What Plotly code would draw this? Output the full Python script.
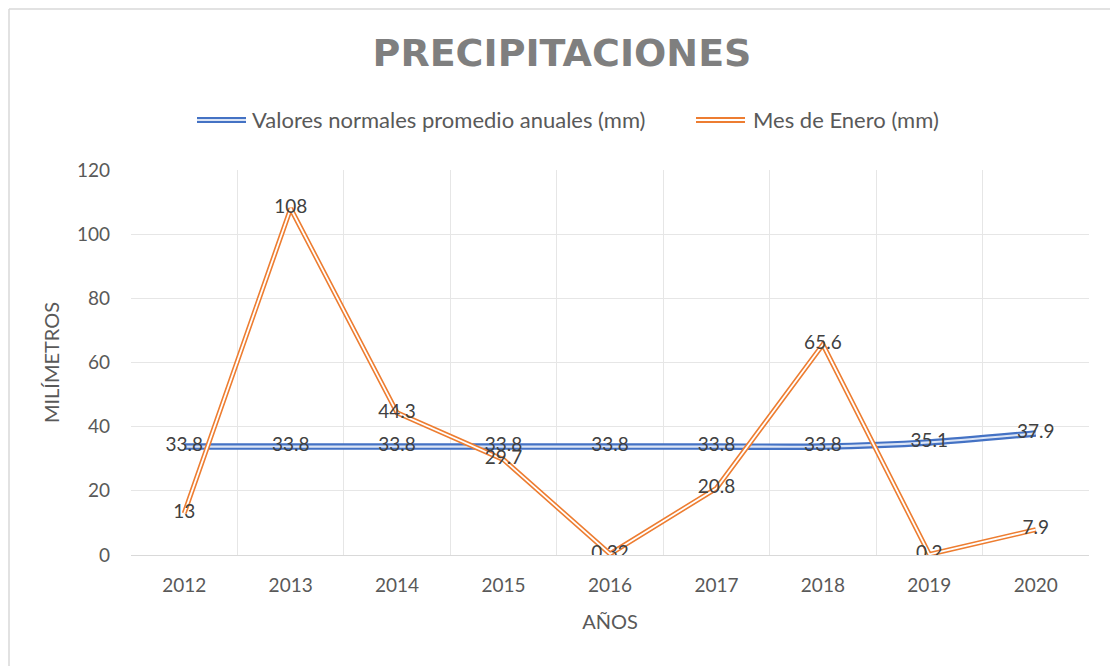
import plotly.graph_objects as go

years = ["2012", "2013", "2014", "2015", "2016", "2017", "2018", "2019", "2020"]
normales = [33.8, 33.8, 33.8, 33.8, 33.8, 33.8, 33.8, 35.1, 37.9]
enero = [13, 108, 44.3, 29.7, 0.32, 20.8, 65.6, 0.2, 7.9]
normales_lbl = ["33.8", "33.8", "33.8", "33.8", "33.8", "33.8", "33.8", "35.1", "37.9"]
enero_lbl = ["13", "108", "44.3", "29.7", "0.32", "20.8", "65.6", "0.2", "7.9"]
yticks = [0, 20, 40, 60, 80, 100, 120]

BLUE = "#4472C4"
ORANGE = "#ED7D31"
TXT = "#595959"
LBL = "#404040"
FONT = "Lato"

fig = go.Figure()
# blue double line
fig.add_trace(go.Scatter(x=years, y=normales, mode="lines", line=dict(color=BLUE, width=6.5, shape="spline", smoothing=0.6),
                         showlegend=False, hoverinfo="skip"))
fig.add_trace(go.Scatter(x=years, y=normales, mode="lines", line=dict(color="#DCE5F5", width=2.2, shape="spline", smoothing=0.6),
                         showlegend=False, hoverinfo="skip"))
# orange double line
fig.add_trace(go.Scatter(x=years, y=enero, mode="lines", line=dict(color=ORANGE, width=5),
                         showlegend=False, hoverinfo="skip"))
fig.add_trace(go.Scatter(x=years, y=enero, mode="lines", line=dict(color="white", width=1.8),
                         showlegend=False, hoverinfo="skip"))
# labels
fig.add_trace(go.Scatter(x=years, y=normales, mode="text", text=normales_lbl, textposition="middle center",
                         textfont=dict(family=FONT, size=19, color=LBL), showlegend=False, hoverinfo="skip"))
fig.add_trace(go.Scatter(x=years, y=enero, mode="text", text=enero_lbl, textposition="middle center",
                         textfont=dict(family=FONT, size=19, color=LBL), showlegend=False, hoverinfo="skip"))

W, H = 1118, 666


def px_x(px):
    return (px - 131) / 958


def px_y(py):
    return (555 - py) / 385


shapes = []
annotations = []
# chart border (top and left visible)
shapes.append(dict(type="line", xref="paper", yref="paper", x0=px_x(9), x1=px_x(1130),
                   y0=px_y(9), y1=px_y(9), line=dict(color="#D9D9D9", width=1.5), layer="below"))
shapes.append(dict(type="line", xref="paper", yref="paper", x0=px_x(9), x1=px_x(9),
                   y0=px_y(9), y1=px_y(700), line=dict(color="#D9D9D9", width=1.5), layer="below"))

# manual legend
for (x0, x1, col, inner, tx, label) in [(197, 246, BLUE, "#DCE5F5", 250, "Valores normales promedio anuales (mm)"),
                                         (696, 745, ORANGE, "white", 751, "Mes de Enero (mm)")]:
    shapes.append(dict(type="line", xref="paper", yref="paper", x0=px_x(x0), x1=px_x(x1),
                       y0=px_y(120), y1=px_y(120), line=dict(color=col, width=6)))
    shapes.append(dict(type="line", xref="paper", yref="paper", x0=px_x(x0), x1=px_x(x1),
                       y0=px_y(120), y1=px_y(120), line=dict(color=inner, width=2)))
    annotations.append(dict(xref="paper", yref="paper", x=px_x(tx), y=px_y(120), text=label, showarrow=False,
                            xanchor="left", yanchor="middle", font=dict(family=FONT, size=22, color=TXT)))

fig.update_layout(
    width=W, height=H,
    margin=dict(l=123, r=37, t=162, b=119),
    paper_bgcolor="white", plot_bgcolor="white",
    title=dict(text="<b>PRECIPITACIONES</b>", x=px_x(562), xanchor="center", xref="paper",
               y=1 - 45 / H, yanchor="middle",
               font=dict(family="DejaVu Sans", size=38, color="#7F7F7F")),
    xaxis=dict(type="category", showgrid=True, gridcolor="#E6E6E6", showline=True, linecolor="#D9D9D9",
               tickson="boundaries", mirror=False,
               tickfont=dict(family=FONT, size=19, color=TXT), ticks="", ticklabelstandoff=13,
               title=dict(text="AÑOS", font=dict(family=FONT, size=20, color=TXT), standoff=20),
               range=[-0.5, 8.5], zeroline=False),
    yaxis=dict(range=[0, 120], tickvals=yticks, showgrid=True, gridcolor="#E6E6E6", zeroline=False,
               tickfont=dict(family=FONT, size=19, color=TXT), ticks="", ticklabelstandoff=20,
               title=dict(text="MILÍMETROS", font=dict(family=FONT, size=20, color=TXT), standoff=11)),
    shapes=shapes, annotations=annotations,
    showlegend=False,
)

fig.write_html("out.html")
